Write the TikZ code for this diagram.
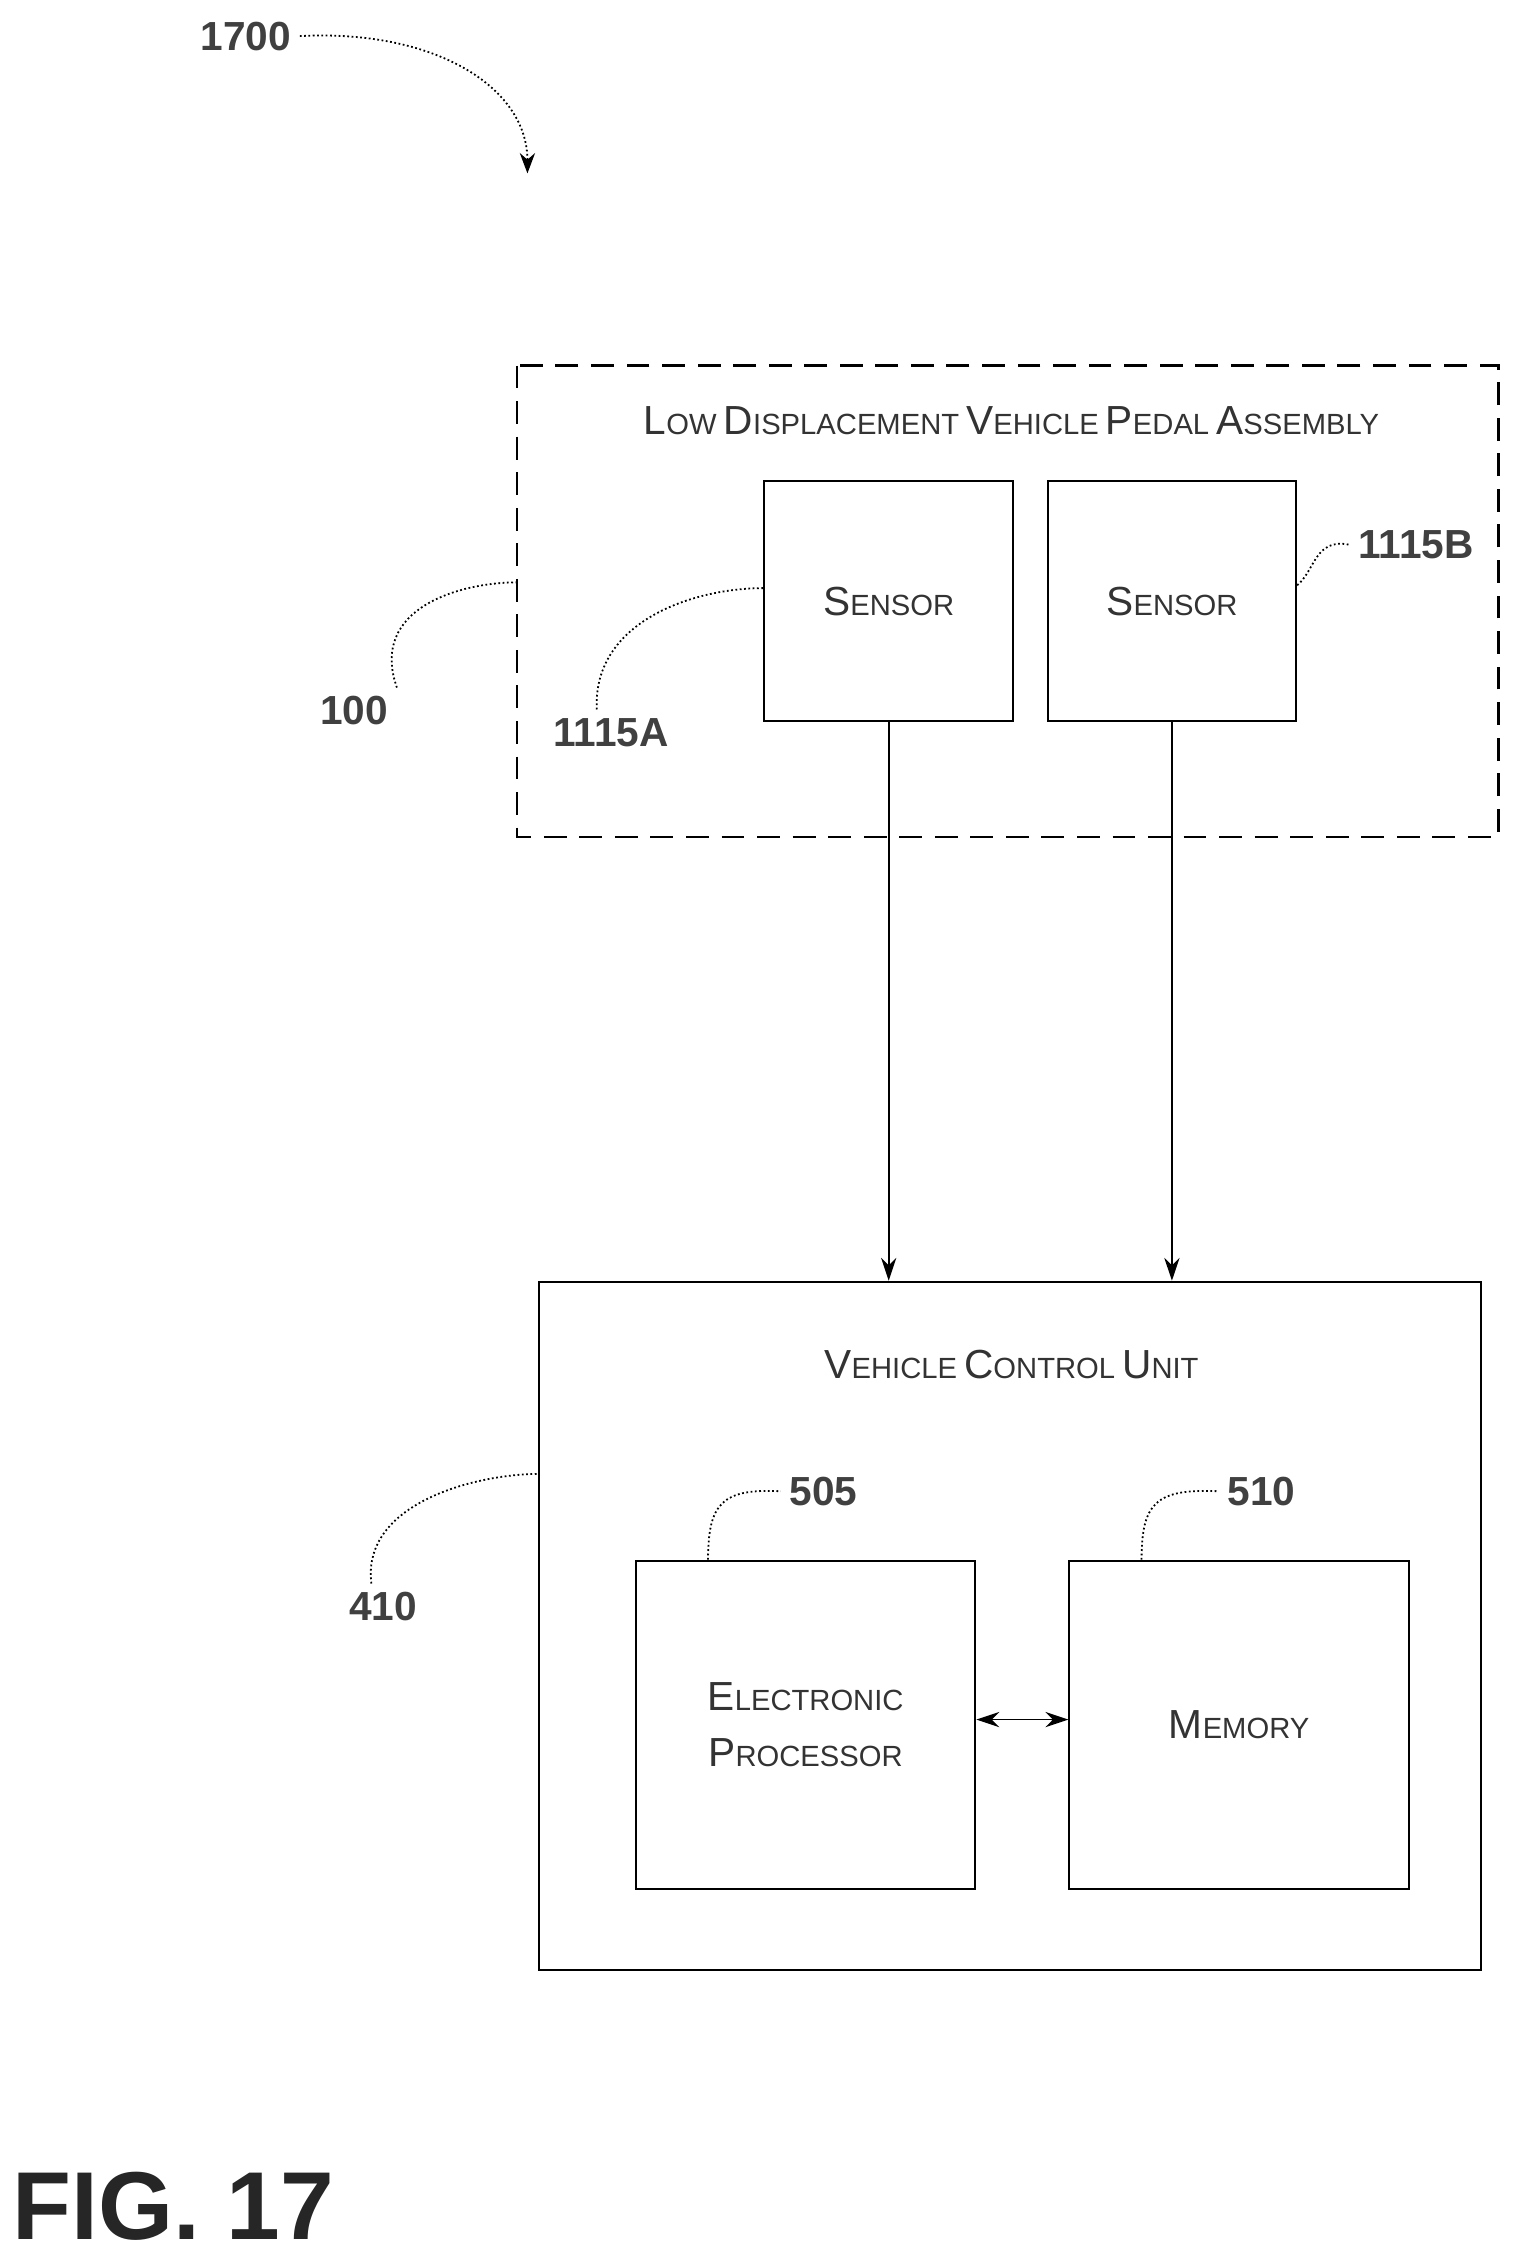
\documentclass[tikz,border=0pt]{standalone}
\usepackage{fontspec}
\setmainfont{Liberation Sans}
\usetikzlibrary{arrows.meta}
% fake small caps: big initial, smaller rest
\newcommand{\sca}[2]{{\fontsize{16}{16}\selectfont #1}{\fontsize{11.5}{11.5}\selectfont #2}}
\tikzset{
  blk/.style={draw, line width=0.8pt, inner sep=0pt},
  lead/.style={line width=0.7pt, densely dotted},
  num/.style={font=\fontsize{16}{16}\selectfont\bfseries, text=black!75},
  link/.style={line width=0.7pt, -{Stealth[length=9pt,width=6pt]}},
}
\begin{document}
\begin{tikzpicture}[x=0.02cm, y=-0.02cm]
            \useasboundingbox (0,0) rectangle (1050,1564);

            % pedal assembly
            \draw[line width=0.9pt, dash pattern=on 9pt off 5pt] (358,253) rectangle (1037,579);
            \node[text=black!80] (pedal) at (700,291) {\sca{L}{OW} \sca{D}{ISPLACEMENT} \sca{V}{EHICLE} \sca{P}{EDAL} \sca{A}{SSEMBLY}};
            \node[blk, text=black!80, minimum width=172*0.02cm, minimum height=166*0.02cm] (sensA) at (615,416) {\sca{S}{ENSOR}};
            \node[blk, text=black!80, minimum width=172*0.02cm, minimum height=166*0.02cm] (sensB) at (811,416) {\sca{S}{ENSOR}};

            % control unit
            \node[blk, minimum width=652*0.02cm, minimum height=476*0.02cm] (vcu) at (699,1125) {};
            \node[text=black!80] (vcutitle) at (700,944) {\sca{V}{EHICLE} \sca{C}{ONTROL} \sca{U}{NIT}};
            \node[blk, text=black!80, minimum width=235*0.02cm, minimum height=227*0.02cm, align=center] (proc) at (557.5,1193.5) {\sca{E}{LECTRONIC}\\[10pt]\sca{P}{ROCESSOR}};
            \node[blk, text=black!80, minimum width=235*0.02cm, minimum height=227*0.02cm] (mem) at (857.5,1193.5) {\sca{M}{EMORY}};

            % connections
            \draw[link] (sensA.south) -- (sensA.south |- vcu.north);
            \draw[link] (sensB.south) -- (sensB.south |- vcu.north);
            \draw[link, {Stealth[length=9pt,width=6pt]}-{Stealth[length=9pt,width=6pt]}] (proc.east |- 0,1190) -- (mem.west |- 0,1190);

            % reference numerals
            \node[num] (n1700) at (170,25) {1700};
            \coordinate (c1700) at (365,120);
            \draw[lead, -{Stealth[length=8pt,width=6pt]}] (n1700.east) .. controls (300,20) and (365,60) .. (c1700);
            \node[num] (n100) at (245,492) {100};
            \draw[lead] (n100.north east) .. controls (255,420) and (320,403) .. (358,403);
            \node[num] (n1115a) at (423,507) {1115A};
            \draw[lead] (n1115a.north) ++(-10,0) .. controls (410,430) and (480,407) .. (sensA.west |- 0,407);
            \node[num] (n1115b) at (980,377) {1115B};
            \draw[lead] (sensB.east |- 0,405) .. controls (910,395) and (910,372) .. (n1115b.west);
            \node[num] (n410) at (265,1112) {410};
            \draw[lead] (n410.north) ++(-8,0) .. controls (250,1040) and (330,1020) .. (373,1020);
            \node[num] (n505) at (570,1032) {505};
            \draw[lead] (proc.north -| 490,0) .. controls (490,1040) and (500,1030) .. (n505.west);
            \node[num] (n510) at (873,1032) {510};
            \draw[lead] (mem.north -| 790,0) .. controls (790,1040) and (800,1030) .. (n510.west);

            \node[font=\fontsize{38}{38}\selectfont\bfseries, text=black!85] (fig) at (120,1527) {FIG. 17};
        \end{tikzpicture}
\end{document}
